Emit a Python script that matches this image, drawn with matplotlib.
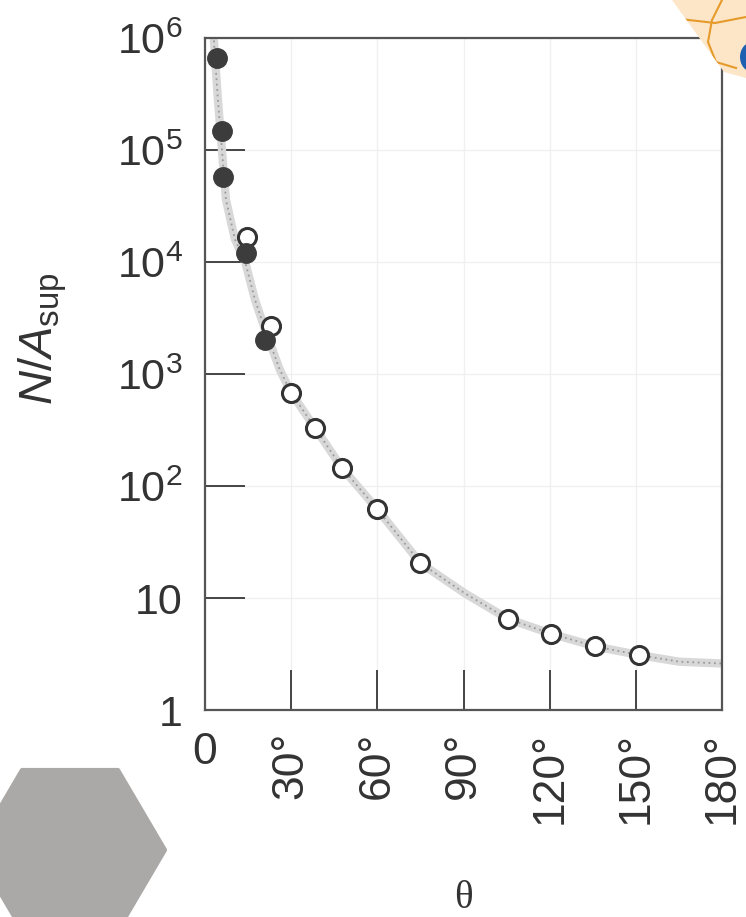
import matplotlib
matplotlib.use("Agg")
import matplotlib.pyplot as plt
from matplotlib.patches import Polygon, Circle
from matplotlib.lines import Line2D

plt.rcParams['font.family'] = ['Liberation Sans', 'DejaVu Sans']
plt.rcParams['mathtext.fontset'] = 'custom'
plt.rcParams['mathtext.rm'] = 'Liberation Sans'
plt.rcParams['mathtext.it'] = 'Liberation Sans:italic'

# scattering angle (deg) and counts per unit area
theta_filled = [4.2, 5.9, 6.3, 14.3, 20.9]
counts_filled = [6.6e5, 1.48e5, 5.7e4, 1.2e4, 2.0e3]

theta_open = [14.6, 23.0, 30.0, 38.3, 47.7, 59.9, 74.9, 105.5, 120.5, 135.8, 151.0]
counts_open = [1.67e4, 2.7e3, 680, 330, 145, 62, 20.5, 6.5, 4.8, 3.7, 3.1]

# points along the theory band
theta_curve = [3.1, 4.5, 5.9, 7.3, 10.4, 14.0, 17.4, 20.9, 26.0, 30.0, 38.3,
               47.7, 60.0, 75.0, 90.5, 105.5, 120.5, 135.8, 151.0, 165.0, 180.0]
counts_curve = [9.5e5, 2.8e5, 1.0e5, 3.6e4, 1.6e4, 1.0e4, 4.6e3, 2.5e3, 1.1e3, 680, 330,
                145, 62, 20.5, 11.0, 6.5, 4.8, 3.7, 3.1, 2.7, 2.6]

x_ticks = [0, 30, 60, 90, 120, 150, 180]
x_labels = ['0', '30°', '60°', '90°', '120°', '150°', '180°']
y_ticks = [1, 10, 1e2, 1e3, 1e4, 1e5, 1e6]
y_labels = ['1', '10', r'$10^2$', r'$10^3$', r'$10^4$', r'$10^5$', r'$10^6$']

W, H = 746, 917
fig = plt.figure(figsize=(W / 100, H / 100), dpi=100)
ax = fig.add_axes([205 / W, 1 - 710 / H, 517 / W, 672 / H])

ax.set_yscale('log')
ax.set_xlim(0, 180)
ax.set_ylim(1, 1e6)

ax.plot(theta_curve, counts_curve, color='#d8d8d8', lw=6, solid_capstyle='round', zorder=2)
ax.plot(theta_curve, counts_curve, color='#9a9a9a', lw=1.3, ls=(0, (1, 2)), zorder=2)

ax.plot(theta_open, counts_open, 'o', ms=13, mfc='white', mec='#333333', mew=2.2, zorder=3)
ax.plot(theta_filled, counts_filled, 'o', ms=14, mfc='#3c3c3c', mec='#3c3c3c', zorder=4)

ax.grid(True, color='#f0f0f0', lw=1)
ax.minorticks_off()
ax.set_xticks(x_ticks)
ax.set_xticklabels(x_labels, rotation=90, fontsize=32, color='#333333')
ax.get_xticklabels()[0].set_rotation(0)
ax.set_yticks(y_ticks)
ax.set_yticklabels(y_labels, fontsize=31, color='#333333')
ax.tick_params(axis='both', direction='in', length=29, width=1.4, color='#444444')
ax.tick_params(axis='x', pad=16)
ax.tick_params(axis='y', pad=16)
for s in ax.spines.values():
    s.set_color('#555555')
    s.set_linewidth(1.6)

fig.text(43 / W, 1 - 339 / H, r'$N/A_{\rm sup}$', rotation=90, fontsize=34,
         color='#333333', ha='center', va='center')
fig.text(463 / W, 1 - 898 / H, 'θ', family=['Liberation Serif', 'DejaVu Serif'],
         fontsize=28, color='#333333', ha='center', va='center')


def fx(px, py):
    return (px / W, 1 - py / H)


# grey hexagon, lower left
hexagon = [fx(22, 770), fx(118, 770), fx(165, 850), fx(118, 930), fx(22, 930), fx(-25, 850)]
fig.add_artist(Polygon(hexagon, closed=True, transform=fig.transFigure,
                       facecolor='#aba9a8', edgecolor='#aba9a8', lw=3, joinstyle='round'))

# logo corner, upper right
corner = Polygon([fx(672, 0), fx(746, 0), fx(746, 78), fx(724, 72)], closed=True,
                 transform=fig.transFigure, facecolor='#fde6c8', edgecolor='none', zorder=10)
fig.add_artist(corner)
arc1 = [fx(722, 0), fx(712, 20), fx(708, 42), fx(716, 62), fx(736, 68)]
arc2 = [fx(680, 19), fx(715, 23), fx(746, 17)]
for arc in (arc1, arc2):
    ln = Line2D([p[0] for p in arc], [p[1] for p in arc], transform=fig.transFigure,
                color='#e59a2a', lw=1.5, zorder=11)
    fig.add_artist(ln)
    ln.set_clip_path(corner)
dot = Circle(fx(752, 57), 12 / W, transform=fig.transFigure,
             facecolor='#1d5fb0', edgecolor='none', zorder=12)
fig.add_artist(dot)

fig.savefig('out.png', dpi=100)
